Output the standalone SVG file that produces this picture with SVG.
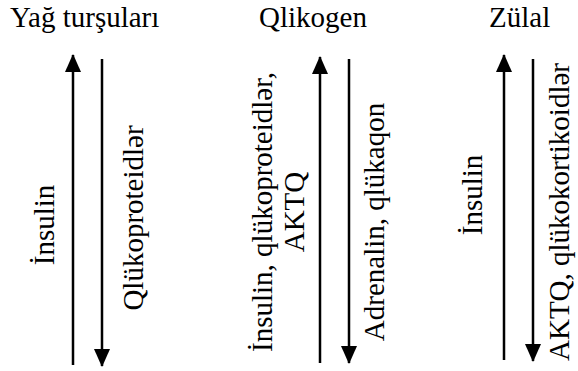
<svg xmlns="http://www.w3.org/2000/svg" width="578" height="371" viewBox="0 0 578 371">
<style>
text{font-family:"Liberation Serif",serif;font-size:29px;fill:#000}
.v{text-anchor:middle}
.ln{stroke:#000;stroke-width:2.5;fill:none}
</style>
<defs>
<marker id="ah" markerUnits="userSpaceOnUse" markerWidth="18" markerHeight="16" viewBox="0 0 18 16" refX="17" refY="8" orient="auto">
<path d="M0,0 L18,8 L0,16 Z" fill="#000"/>
</marker>
</defs>
<rect width="578" height="371" fill="#fff"/>
<g id="node-yag"><text x="10" y="27" font-family="Liberation Serif">Yağ turşuları</text></g>
<g id="node-qlikogen"><text x="259" y="27" font-family="Liberation Serif">Qlikogen</text></g>
<g id="node-zulal"><text x="489" y="27" font-family="Liberation Serif">Zülal</text></g>
<g id="connectors">
<line class="ln" x1="73" y1="365" x2="73" y2="55" marker-end="url(#ah)"/>
<line class="ln" x1="102" y1="59" x2="102" y2="366" marker-end="url(#ah)"/>
<line class="ln" x1="320" y1="363" x2="320" y2="57" marker-end="url(#ah)"/>
<line class="ln" x1="349" y1="59" x2="349" y2="363" marker-end="url(#ah)"/>
<line class="ln" x1="504" y1="360" x2="504" y2="55" marker-end="url(#ah)"/>
<line class="ln" x1="533" y1="59" x2="533" y2="361" marker-end="url(#ah)"/>
</g>
<g id="labels">
<text class="v" transform="translate(54,225) rotate(-90)">İnsulin</text>
<text class="v" transform="translate(143,218) rotate(-90)">Qlükoproteidlər</text>
<text class="v" transform="translate(272,212) rotate(-90)">İnsulin, qlükoproteidlər,</text>
<text class="v" transform="translate(304,212) rotate(-90)">AKTQ</text>
<text class="v" transform="translate(384,222) rotate(-90)">Adrenalin, qlükaqon</text>
<text class="v" transform="translate(482,195) rotate(-90)">İnsulin</text>
<text class="v" transform="translate(569,212) rotate(-90)">AKTQ, qlükokortikoidlər</text>
</g>
</svg>
